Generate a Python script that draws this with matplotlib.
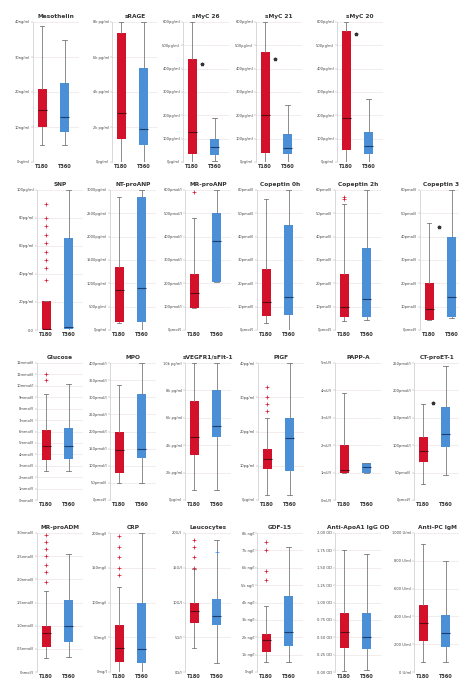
import matplotlib.pyplot as plt

# panel titles, row by row
titles = ['Mesothelin', 'sRAGE', 'sMyC 26', 'sMyC 21', 'sMyC 20',
          'SNP', 'NT-proANP', 'MR-proANP', 'Copeptin 0h', 'Copeptin 2h', 'Copeptin 3h',
          'Glucose', 'MPO', 'sVEGFR1/sFlt-1', 'PlGF', 'PAPP-A', 'CT-proET-1',
          'MR-proADM', 'CRP', 'Leucocytes', 'GDF-15', 'Anti-ApoA1 IgG OD', 'Anti-PC IgM']

# y axis tick labels per panel (bottom to top)
ytick_labels = [
    ['0ng/ml', '10ng/ml', '20ng/ml', '30ng/ml', '40ng/ml'],
    ['0pg/ml', '2k pg/ml', '4k pg/ml', '6k pg/ml', '8k pg/ml'],
    ['0pg/ml', '100pg/ml', '200pg/ml', '300pg/ml', '400pg/ml', '500pg/ml', '600pg/ml'],
    ['0pg/ml', '100pg/ml', '200pg/ml', '300pg/ml', '400pg/ml', '500pg/ml', '600pg/ml'],
    ['0pg/ml', '100pg/ml', '200pg/ml', '300pg/ml', '400pg/ml', '500pg/ml', '600pg/ml'],
    ['0,0', '20pg/ml', '40pg/ml', '60pg/ml', '80pg/ml', '100pg/ml'],
    ['0pg/ml', '500pg/ml', '1000pg/ml', '1500pg/ml', '2000pg/ml', '2500pg/ml', '3000pg/ml'],
    ['0pmol/l', '100pmol/l', '200pmol/l', '300pmol/l', '400pmol/l', '500pmol/l', '600pmol/l'],
    ['0pmol/l', '10pmol/l', '20pmol/l', '30pmol/l', '40pmol/l', '50pmol/l', '60pmol/l'],
    ['0pmol/l', '10pmol/l', '20pmol/l', '30pmol/l', '40pmol/l', '50pmol/l', '60pmol/l'],
    ['0pmol/l', '10pmol/l', '20pmol/l', '30pmol/l', '40pmol/l', '50pmol/l', '60pmol/l'],
    ['0mmol/l', '1mmol/l', '2mmol/l', '3mmol/l', '4mmol/l', '5mmol/l', '6mmol/l',
     '7mmol/l', '8mmol/l', '9mmol/l', '10mmol/l', '11mmol/l', '12mmol/l'],
    ['0pmol/l', '50pmol/l', '100pmol/l', '150pmol/l', '200pmol/l', '250pmol/l',
     '300pmol/l', '350pmol/l', '400pmol/l'],
    ['0pg/ml', '2k pg/ml', '4k pg/ml', '6k pg/ml', '8k pg/ml', '10k pg/ml'],
    ['0pg/ml', '10pg/ml', '20pg/ml', '30pg/ml', '40pg/ml'],
    ['0mU/l', '1mU/l', '2mU/l', '3mU/l', '4mU/l', '5mU/l'],
    ['0pmol/l', '50pmol/l', '100pmol/l', '150pmol/l', '200pmol/l', '250pmol/l'],
    ['0nmol/l', '0.5nmol/l', '1.0nmol/l', '1.5nmol/l', '2.0nmol/l', '2.5nmol/l', '3.0nmol/l'],
    ['0mg/l', '50mg/l', '100mg/l', '150mg/l', '200mg/l'],
    ['0G/l', '5G/l', '10G/l', '15G/l', '20G/l'],
    ['0ng/l', '1k ng/l', '2k ng/l', '3k ng/l', '4k ng/l', '5k ng/l', '6k ng/l', '7k ng/l', '8k ng/l'],
    ['0.00 OD', '0.25 OD', '0.50 OD', '0.75 OD', '1.00 OD', '1.25 OD', '1.50 OD', '1.75 OD', '2.00 OD'],
    ['0 U/ml', '200 U/ml', '400 U/ml', '600 U/ml', '800 U/ml', '1000 U/ml'],
]

# box stats in tick units: (whislo, q1, med, q3, whishi)
t180_stats = [
    (0.5, 1.0, 1.5, 2.1, 3.9), (0.0, 0.65, 1.4, 3.68, 4.0), (0.0, 0.35, 1.3, 4.4, 6.0),
    (0.0, 0.4, 2.0, 4.7, 6.0), (0.0, 0.5, 1.9, 5.6, 6.0),
    (0.0, 0.03, 0.05, 1.05, 1.05), (0.3, 0.35, 1.7, 2.7, 5.7), (0.95, 0.95, 1.6, 2.4, 4.8),
    (0.3, 0.6, 1.2, 2.6, 5.6), (0.4, 0.55, 1.0, 2.4, 5.4), (0.45, 0.45, 0.9, 2.0, 4.6),
    (2.5, 3.5, 4.7, 6.1, 9.3), (1.0, 1.55, 2.9, 4.0, 6.7), (0.35, 1.65, 2.3, 3.6, 5.0),
    (0.15, 0.9, 1.2, 1.5, 2.4), (1.0, 1.0, 1.1, 2.0, 3.9), (0.6, 1.4, 1.8, 2.3, 3.5),
    (0.6, 1.1, 1.7, 2.0, 3.5), (0.0, 0.3, 0.7, 1.35, 2.45), (0.7, 1.4, 1.75, 2.0, 2.95),
    (0.6, 1.15, 1.85, 2.2, 3.8), (0.05, 1.4, 2.3, 3.4, 7.0), (0.35, 1.1, 1.75, 2.4, 4.6),
]
t360_stats = [
    (0.5, 0.85, 1.3, 2.25, 3.5), (0.0, 0.5, 0.95, 2.7, 4.0), (0.05, 0.3, 0.65, 1.0, 1.9),
    (0.0, 0.35, 0.6, 1.2, 2.45), (0.0, 0.35, 0.7, 1.3, 2.7),
    (0.0, 0.05, 0.1, 3.3, 5.0), (0.0, 0.35, 1.8, 5.7, 6.0), (2.05, 2.05, 3.8, 5.0, 6.0),
    (0.0, 0.65, 1.4, 4.5, 6.0), (0.45, 0.55, 1.35, 3.5, 6.0), (0.5, 0.55, 1.4, 4.0, 6.0),
    (2.5, 3.6, 4.7, 6.3, 10.2), (1.0, 2.45, 3.0, 6.2, 8.0), (0.35, 2.3, 2.7, 4.0, 5.0),
    (0.15, 0.85, 1.8, 2.4, 4.0), (1.0, 1.0, 1.2, 1.35, 1.35), (0.9, 1.95, 2.4, 3.4, 4.9),
    (0.65, 1.3, 2.0, 3.1, 5.1), (0.0, 0.25, 0.65, 2.0, 4.0), (0.25, 1.35, 1.6, 2.1, 3.8),
    (0.6, 1.5, 2.3, 4.4, 7.2), (0.1, 1.3, 2.0, 3.4, 6.8), (0.35, 0.9, 1.4, 2.05, 4.0),
]

# outliers in tick units
t180_fliers = [
    [], [], [], [], [],
    [1.8, 2.2, 2.5, 2.8, 3.1, 3.4, 3.7, 4.0, 4.5], [], [5.9], [], [5.7, 5.6], [],
    [10.5, 11.0], [], [], [2.6, 2.8, 3.0, 3.3], [], [],
    [3.9, 4.3, 4.6, 5.0, 5.3, 5.6, 5.9], [2.8, 3.0, 3.3, 3.6, 3.9], [3.0, 3.3, 3.6, 3.8],
    [5.3, 5.8, 7.0, 7.5], [], [],
]
t360_fliers = [
    [], [], [], [], [],
    [], [], [], [], [], [],
    [], [], [], [], [], [],
    [], [], [3.45], [], [], [],
]

# significance star height (tick units), None where absent
stars = [None, None, 4.2, 4.4, 5.5,
         None, None, None, None, None, 4.4,
         None, None, None, None, None, 3.55,
         None, None, None, None, None, None]

groups = ['T180', 'T360']
red = '#d4112b'
blue = '#4b8fd6'

fig = plt.figure(figsize=(4.59, 6.82), dpi=100)
W, H = 459.0, 682.0

row_lefts = [[33, 112, 183, 256, 337],
             [37, 110, 185, 257, 335, 420],
             [37, 110, 185, 258, 335, 414],
             [37, 110, 185, 257, 335, 414]]
row_tops = [22, 190, 363, 533]
row_bottoms = [162, 330, 500, 672]

i = 0
for r, lefts in enumerate(row_lefts):
    for left in lefts:
        ax = fig.add_axes([left / W, 1 - row_bottoms[r] / H, 46 / W,
                           (row_bottoms[r] - row_tops[r]) / H])
        stats = []
        for g, s, fl in ((groups[0], t180_stats[i], t180_fliers[i]),
                         (groups[1], t360_stats[i], t360_fliers[i])):
            stats.append(dict(label=g, whislo=s[0], q1=s[1], med=s[2],
                              q3=s[3], whishi=s[4], fliers=fl))
        bp = ax.bxp(stats, positions=[1, 2], widths=0.4, patch_artist=True,
                    showcaps=True,
                    whiskerprops=dict(color='#7a7a7a', lw=0.6),
                    capprops=dict(color='#7a7a7a', lw=0.6),
                    boxprops=dict(lw=0),
                    flierprops=dict(marker='+', markersize=2.2,
                                    markeredgewidth=0.5))
        for k, col in enumerate([red, blue]):
            bp['boxes'][k].set_facecolor(col)
            bp['medians'][k].set_color('#5a0a14' if k == 0 else '#1c3f70')
            bp['medians'][k].set_linewidth(0.8)
            bp['fliers'][k].set_markeredgecolor(col)
        if stars[i] is not None:
            ax.plot([1.45], [stars[i]], marker='*', color='#333333',
                    markersize=2.5, linestyle='none')
        labels = ytick_labels[i]
        top = len(labels) - 1
        ax.set_ylim(0, top)
        ax.set_xlim(0.59, 2.64)
        ax.set_yticks(range(len(labels)))
        ax.set_yticklabels(labels, fontsize=2.6, color='#444444')
        ax.yaxis.grid(True, color='#eadede', lw=0.4)
        ax.set_axisbelow(True)
        ax.tick_params(axis='y', length=1.2, width=0.3, pad=1, color='#999999')
        ax.tick_params(axis='x', length=0, pad=1.5)
        ax.set_xticks([1, 2])
        ax.set_xticklabels(groups, fontsize=3.6, fontweight='bold', color='#333333')
        for sp in ['top', 'right', 'bottom']:
            ax.spines[sp].set_visible(False)
        ax.spines['left'].set_color('#bbbbbb')
        ax.spines['left'].set_linewidth(0.4)
        ax.set_title(titles[i], fontsize=4.2, fontweight='bold', color='#333333', pad=3)
        i += 1

fig.savefig('out.png', dpi=100)
